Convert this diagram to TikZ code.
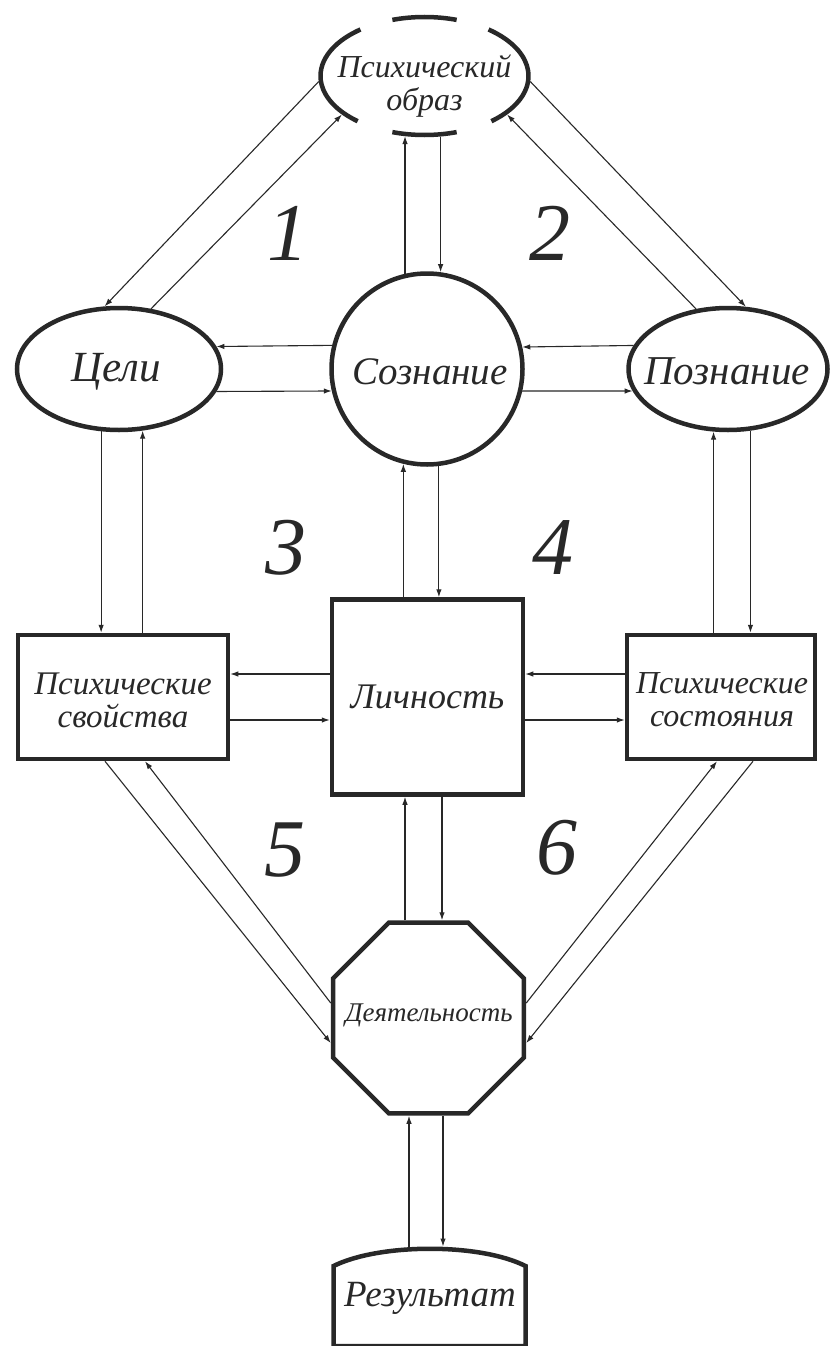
\documentclass[tikz,border=0pt]{standalone}
\usepackage{fontspec}
\setmainfont{Liberation Serif}
\usetikzlibrary{arrows.meta,shapes.geometric,calc}
\definecolor{ink}{RGB}{40,40,40}
\begin{document}
\begin{tikzpicture}[x=1pt,y=-1pt,
  bord/.style={draw=ink,line width=4.5pt},
  arr/.style={draw=ink,line width=1.1pt,-{Latex[length=8pt,width=5.5pt]}},
  lab/.style={font=\fontsize{35}{33}\selectfont\itshape,text=ink,align=center,inner sep=0pt},
  num/.style={font=\fontsize{82}{82}\selectfont\itshape,text=ink,inner sep=0pt}]
\useasboundingbox (0,0) rectangle (831,1346);
\fill[white] (0,0) rectangle (831,1346);

% shapes
\node[ellipse,minimum width=208pt,minimum height=118pt,inner sep=0pt,outer sep=2.25pt] (obr) at (424.5,76) {};
\foreach \a/\b in {72/108,128/230,252/288,-50/52}{
  \draw[draw=ink,line width=4.5pt] ([shift={(\a:104pt and 59pt)}]obr.center) arc[start angle=\a,end angle=\b,x radius=104pt,y radius=59pt];
}
\node[ellipse,bord,minimum width=204pt,minimum height=122pt,inner sep=0pt] (celi) at (119,369) {};
\node[circle,bord,minimum size=191pt,inner sep=0pt] (soz) at (427,369) {};
\node[ellipse,bord,minimum width=199pt,minimum height=122pt,inner sep=0pt] (poz) at (728,369) {};
\node[rectangle,bord,minimum width=210pt,minimum height=124pt,inner sep=0pt] (svo) at (123,697) {};
\node[rectangle,bord,minimum width=191pt,minimum height=195pt,inner sep=0pt] (lich) at (427.5,697) {};
\node[rectangle,bord,minimum width=188pt,minimum height=124pt,inner sep=0pt] (sost) at (721,697) {};
\node[regular polygon,regular polygon sides=8,bord,minimum size=206.7pt,inner sep=0pt] (deya) at (428.5,1018) {};
\draw[bord] (333.5,1346) -- (333.5,1266) .. controls (380,1243) and (480,1243) .. (525.5,1266) -- (525.5,1346) -- cycle;
\coordinate (reztop) at (428,1246.5);

% labels
\node[lab,font=\fontsize{32}{33}\selectfont\itshape] (obrt) at (424.5,86) {Психический\\образ};
\node[lab,font=\fontsize{43}{43}\selectfont\itshape] (celit) at (116,372) {Цели};
\node[lab,font=\fontsize{39}{39}\selectfont\itshape] (sozt) at (430,372) {Сознание};
\node[lab,font=\fontsize{41}{41}\selectfont\itshape] (pozt) at (727,371) {Познание};
\node[lab,font=\fontsize{33}{33}\selectfont\itshape] (svot) at (123,700) {Психические\\свойства};
\node[lab,font=\fontsize{36}{36}\selectfont\itshape] (licht) at (427.5,697) {Личность};
\node[lab,font=\fontsize{32}{33}\selectfont\itshape] (sostt) at (722,700) {Психические\\состояния};
\node[lab,font=\fontsize{27}{27}\selectfont\itshape] (deyat) at (429,1015) {Деятельность};
\node[lab,font=\fontsize{37}{37}\selectfont\itshape] (rezt) at (430,1298) {Результат};

% numbers
\node[num] (n1) at (288,233) {1};
\node[num] (n2) at (550,233) {2};
\node[num] (n3) at (286,548) {3};
\node[num] (n4) at (553,548) {4};
\node[num] (n5) at (285,850) {5};
\node[num] (n6) at (557,848) {6};

% Образ -- Цели / Познание
\draw[arr] (obr.183) -- (celi.103);
\draw[arr] (celi.62) -- (obr.205);
\draw[arr] (obr.357) -- (poz.74.2);
\draw[arr] (poz.118.1) -- (obr.335);
% Образ -- Сознание
\draw[arr] (soz.103.3) -- (soz.103.3 |- obr.251.4);
\draw[arr] (soz.82.8 |- obr.283.9) -- (soz.82.8);
% row 2 horizontals
\draw[arr] (soz.166.37) -- (celi.13.35);
\draw[arr] (celi.-13.35) -- (soz.193.63);
\draw[arr] (poz.166.33) -- (soz.13.63);
\draw[arr] (soz.-13.63) -- (poz.193.67);
% verticals row 2 -> row 3
\draw[arr] (celi.254.2) -- (celi.254.2 |- svo.north);
\draw[arr] (svo.north -| celi.291.2) -- (celi.291.2);
\draw[arr] (lich.north -| soz.256.7) -- (soz.256.7);
\draw[arr] (soz.277.8) -- (soz.277.8 |- lich.north);
\draw[arr] (sost.north -| poz.257.9) -- (poz.257.9);
\draw[arr] (poz.290.3) -- (poz.290.3 |- sost.north);
% row 3 horizontals
\draw[arr] ([yshift=23pt]lich.west) -- ([yshift=23pt]svo.east);
\draw[arr] ([yshift=-23pt]svo.east) -- ([yshift=-23pt]lich.west);
\draw[arr] ([yshift=23pt]sost.west) -- ([yshift=23pt]lich.east);
\draw[arr] ([yshift=-23pt]lich.east) -- ([yshift=-23pt]sost.west);
% to Деятельность
\draw[arr] ([xshift=-18pt]svo.south) -- ([yshift=-25pt]deya.west);
\draw[arr] ([yshift=15pt]deya.west) -- ([xshift=22pt]svo.south);
\draw[arr] ([yshift=15pt]deya.east) -- ([xshift=-4pt]sost.south);
\draw[arr] ([xshift=32pt]sost.south) -- ([yshift=-25pt]deya.east);
\draw[arr] ([xshift=-22.5pt]lich.south |- deya.north) -- ([xshift=-22.5pt]lich.south);
\draw[arr] ([xshift=14.5pt]lich.south) -- ([xshift=14.5pt]lich.south |- deya.north);
% Деятельность -- Результат
\draw[arr] ([xshift=-19.5pt]deya.south |- reztop) -- ([xshift=-19.5pt]deya.south);
\draw[arr] ([xshift=14.5pt]deya.south) -- ([xshift=14.5pt]deya.south |- reztop);
\end{tikzpicture}
\end{document}
